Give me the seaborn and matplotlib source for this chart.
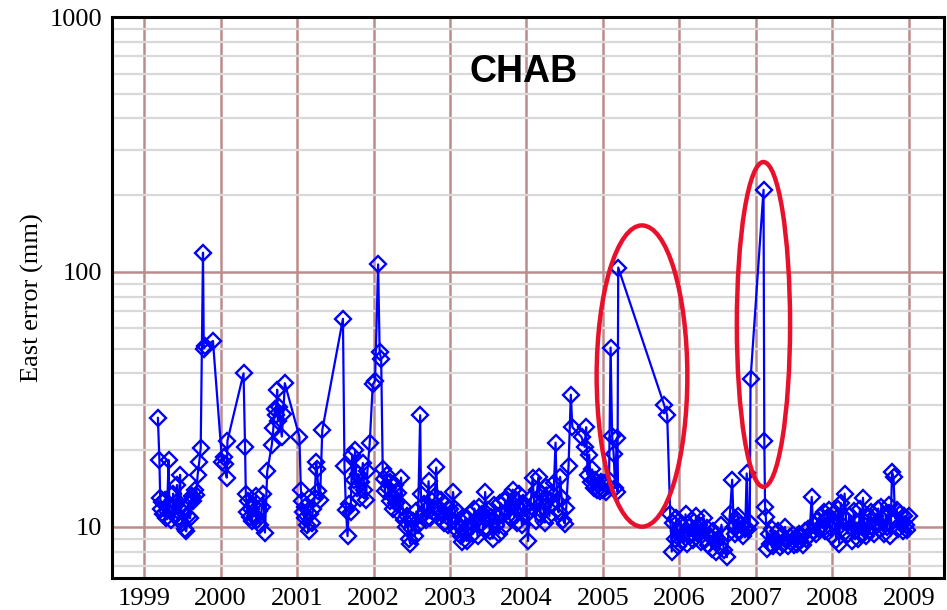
import numpy as np
import pandas as pd
import seaborn as sns
import matplotlib
matplotlib.use("Agg")
import matplotlib.pyplot as plt
from matplotlib.patches import Ellipse
from matplotlib.ticker import LogLocator, FixedLocator, NullFormatter

# ---------------- data ----------------
t_1999 = [1999.18, 1999.20, 1999.21, 1999.22, 1999.24, 1999.25, 1999.27, 1999.28, 1999.30, 1999.32,
          1999.33, 1999.35, 1999.37, 1999.38, 1999.40, 1999.42, 1999.43, 1999.45, 1999.47, 1999.48,
          1999.50, 1999.52, 1999.53, 1999.55, 1999.57, 1999.59, 1999.60, 1999.62, 1999.64, 1999.66,
          1999.68, 1999.70, 1999.72, 1999.74, 1999.77, 1999.78, 1999.80, 1999.90]
e_1999 = [26.8, 18.3, 13.0, 11.8, 12.5, 11.2, 12.8, 10.8, 11.5, 18.3,
          12.0, 10.6, 11.8, 13.5, 11.0, 12.4, 14.6, 10.9, 16.0, 12.2,
          10.4, 11.3, 9.8, 9.6, 11.0, 12.5, 10.8, 13.2, 12.6, 14.0,
          13.3, 16.0, 17.9, 20.4, 119.0, 50.0, 51.0, 53.6]

t_2000 = [2000.02, 2000.04, 2000.06, 2000.08, 2000.09, 2000.30, 2000.32, 2000.33, 2000.35, 2000.36,
          2000.38, 2000.40, 2000.41, 2000.43, 2000.45, 2000.46, 2000.48, 2000.50, 2000.52, 2000.54,
          2000.56, 2000.58, 2000.61, 2000.67, 2000.69, 2000.71, 2000.72, 2000.74, 2000.75, 2000.76,
          2000.80, 2000.82, 2000.84]
e_2000 = [18.0, 18.8, 17.6, 15.6, 21.8, 40.0, 20.6, 13.5, 11.4, 12.6,
          10.9, 11.8, 10.5, 12.2, 11.0, 13.2, 10.6, 11.5, 10.2, 12.0,
          13.4, 9.5, 16.5, 21.0, 24.4, 29.0, 27.5, 34.5, 26.0, 29.5,
          22.6, 27.8, 36.6]

t_2001 = [2001.03, 2001.05, 2001.06, 2001.08, 2001.10, 2001.11, 2001.13, 2001.15, 2001.17, 2001.19,
          2001.21, 2001.23, 2001.25, 2001.26, 2001.28, 2001.30, 2001.33, 2001.60, 2001.62, 2001.64,
          2001.66, 2001.68, 2001.70, 2001.72, 2001.74, 2001.76, 2001.78, 2001.80, 2001.82, 2001.84,
          2001.86, 2001.88, 2001.90, 2001.92, 2001.95, 2001.99, 2002.02, 2002.06, 2002.08, 2002.10]
e_2001 = [22.6, 14.0, 12.6, 11.4, 10.8, 12.0, 10.2, 9.6, 11.2, 10.4,
          11.8, 13.0, 17.9, 16.8, 13.8, 12.7, 24.0, 65.5, 17.4, 11.6,
          9.2, 12.3, 11.4, 19.2, 15.3, 20.0, 14.2, 16.1, 13.0, 15.0,
          17.8, 14.0, 12.8, 16.5, 21.3, 36.2, 37.4, 107.0, 48.5, 45.5]

t_2002 = [2002.12, 2002.14, 2002.15, 2002.17, 2002.19, 2002.21, 2002.22, 2002.24, 2002.26, 2002.28,
          2002.30, 2002.32, 2002.34, 2002.36, 2002.38, 2002.40, 2002.42, 2002.44, 2002.46, 2002.48,
          2002.50, 2002.52, 2002.54, 2002.56, 2002.58, 2002.61, 2002.62, 2002.64, 2002.66, 2002.68,
          2002.70, 2002.72, 2002.74, 2002.76, 2002.78, 2002.80, 2002.82, 2002.84, 2002.86, 2002.88,
          2002.90, 2002.92, 2002.94, 2002.96, 2002.98]
e_2002 = [16.8, 15.4, 13.8, 16.0, 14.2, 12.6, 15.0, 13.2, 11.8, 14.6,
          12.4, 13.6, 11.2, 15.6, 12.0, 10.6, 10.0, 11.0, 9.0, 8.6,
          9.8, 10.5, 9.2, 11.5, 10.2, 27.4, 13.5, 11.0, 12.3, 10.6,
          11.8, 15.1, 10.8, 12.6, 11.4, 13.2, 17.1, 12.0, 10.9, 12.7,
          11.2, 10.4, 12.2, 11.0, 10.2]

t_2003 = [2003.00, 2003.02, 2003.04, 2003.06, 2003.08, 2003.10, 2003.12, 2003.14, 2003.16, 2003.18,
          2003.20, 2003.22, 2003.24, 2003.26, 2003.28, 2003.30, 2003.32, 2003.34, 2003.36, 2003.38,
          2003.40, 2003.42, 2003.44, 2003.46, 2003.48, 2003.50, 2003.52, 2003.54, 2003.56, 2003.58,
          2003.60, 2003.62, 2003.64, 2003.66, 2003.68, 2003.70, 2003.72, 2003.74, 2003.76, 2003.78,
          2003.80, 2003.82, 2003.84, 2003.86, 2003.88, 2003.90, 2003.92, 2003.94, 2003.96, 2003.98]
e_2003 = [11.8, 10.5, 13.7, 11.8, 9.8, 11.4, 10.2, 9.2, 8.7, 9.6,
          10.8, 8.8, 9.9, 11.2, 10.0, 9.4, 11.8, 10.6, 9.2, 12.0,
          10.4, 11.2, 9.8, 13.7, 10.8, 11.6, 9.6, 10.9, 9.0, 12.2,
          10.2, 11.0, 9.4, 12.4, 11.2, 10.0, 12.6, 11.5, 13.2, 10.8,
          12.0, 14.0, 11.0, 12.8, 10.4, 13.5, 11.8, 10.2, 12.4, 11.0]

t_2004 = [2004.00, 2004.02, 2004.04, 2004.06, 2004.08, 2004.10, 2004.12, 2004.14, 2004.16, 2004.18,
          2004.20, 2004.22, 2004.24, 2004.26, 2004.28, 2004.30, 2004.32, 2004.34, 2004.36, 2004.38,
          2004.40, 2004.42, 2004.44, 2004.46, 2004.48, 2004.50, 2004.52, 2004.55, 2004.58, 2004.60,
          2004.72, 2004.76, 2004.78, 2004.80, 2004.82, 2004.84, 2004.86, 2004.88, 2004.90, 2004.92,
          2004.94, 2004.96, 2004.98, 2005.00, 2005.02, 2005.04, 2005.06, 2005.08, 2005.10, 2005.12,
          2005.14, 2005.16, 2005.18, 2005.19, 2005.20, 2005.80, 2005.84]
e_2004 = [12.0, 8.8, 11.5, 13.0, 15.6, 12.4, 10.5, 14.0, 15.7, 11.2,
          13.5, 12.0, 10.4, 14.3, 12.8, 11.0, 13.6, 12.2, 14.8, 21.4,
          12.6, 11.4, 15.7, 13.0, 10.6, 10.3, 11.9, 17.3, 33.0, 24.6,
          22.5, 20.6, 24.6, 16.0, 19.2, 15.0, 16.8, 14.2, 15.3, 13.9,
          14.6, 13.8, 15.0, 14.0, 14.8, 13.7, 14.4, 15.2, 50.5, 22.8,
          19.3, 14.2, 22.3, 13.7, 104.0, 30.1, 27.4]

t_2006 = [2005.88, 2005.90, 2005.92, 2005.94, 2005.96, 2005.98, 2006.00, 2006.02, 2006.04, 2006.06,
          2006.08, 2006.10, 2006.12, 2006.14, 2006.16, 2006.18, 2006.20, 2006.22, 2006.24, 2006.26,
          2006.28, 2006.30, 2006.32, 2006.34, 2006.36, 2006.38, 2006.40, 2006.42, 2006.44, 2006.46,
          2006.48, 2006.50, 2006.52, 2006.55, 2006.58, 2006.62, 2006.64, 2006.66, 2006.69, 2006.71,
          2006.73, 2006.75, 2006.77, 2006.79, 2006.81, 2006.83, 2006.86, 2006.88, 2006.90, 2006.92,
          2006.93, 2007.10]
e_2006 = [11.2, 8.0, 10.4, 9.0, 10.8, 8.4, 9.6, 10.2, 8.8, 9.4,
          11.2, 8.6, 10.0, 9.2, 10.6, 8.9, 9.8, 11.0, 9.4, 10.2,
          8.7, 9.6, 10.8, 9.0, 9.9, 8.5, 9.2, 8.2, 9.6, 8.8,
          8.0, 9.0, 8.4, 10.2, 8.1, 7.6, 9.4, 11.2, 15.3, 10.0,
          9.4, 10.6, 11.0, 9.6, 10.2, 9.2, 9.8, 16.2, 9.8, 10.4,
          37.9, 210.0]

t_2007 = [2007.11, 2007.12, 2007.13, 2007.15, 2007.17, 2007.19, 2007.21, 2007.23, 2007.25, 2007.27,
          2007.29, 2007.31, 2007.33, 2007.35, 2007.38, 2007.40, 2007.42, 2007.44, 2007.46, 2007.48,
          2007.50, 2007.52, 2007.54, 2007.56, 2007.58, 2007.60, 2007.62, 2007.64, 2007.66, 2007.68,
          2007.70, 2007.73, 2007.75, 2007.77, 2007.79, 2007.81, 2007.83, 2007.85, 2007.87, 2007.89,
          2007.91, 2007.93, 2007.95, 2007.97, 2007.99]
e_2007 = [21.8, 12.0, 10.9, 8.2, 9.4, 8.6, 9.8, 8.4, 9.0, 8.8,
          9.6, 8.3, 9.2, 8.6, 10.0, 8.9, 8.4, 9.1, 8.7, 9.3,
          8.5, 9.0, 8.6, 9.4, 8.8, 9.2, 8.5, 9.6, 9.0, 9.8,
          9.2, 13.1, 9.6, 10.2, 9.4, 10.6, 9.8, 11.0, 10.2, 11.4,
          9.6, 10.8, 11.6, 10.0, 9.2]

t_2008 = [2008.01, 2008.03, 2008.05, 2008.07, 2008.09, 2008.11, 2008.13, 2008.16, 2008.18, 2008.20,
          2008.22, 2008.24, 2008.26, 2008.28, 2008.30, 2008.32, 2008.34, 2008.36, 2008.38, 2008.40,
          2008.42, 2008.44, 2008.46, 2008.48, 2008.50, 2008.52, 2008.54, 2008.56, 2008.58, 2008.60,
          2008.62, 2008.64, 2008.66, 2008.68, 2008.70, 2008.72, 2008.74, 2008.76, 2008.78, 2008.80,
          2008.82, 2008.84, 2008.86, 2008.88, 2008.90, 2008.92, 2008.94, 2008.96, 2008.98, 2009.00]
e_2008 = [11.2, 10.4, 8.9, 11.8, 8.6, 12.4, 9.8, 13.5, 10.6, 9.4,
          11.0, 10.0, 8.8, 11.5, 9.6, 10.4, 9.0, 11.8, 9.4, 13.0,
          10.2, 9.2, 10.8, 9.6, 11.4, 10.0, 9.4, 11.0, 10.4, 11.8,
          9.8, 12.0, 10.6, 9.4, 11.2, 10.0, 12.2, 9.2, 16.4, 15.7,
          10.8, 11.6, 9.8, 11.2, 10.4, 9.6, 11.0, 10.2, 9.7, 11.0]

year_ticks = [1999, 2000, 2001, 2002, 2003, 2004, 2005, 2006, 2007, 2008, 2009]
y_ticks = [10, 100, 1000]
title_text = "CHAB"
y_label = "East error (mm)"

years = t_1999 + t_2000 + t_2001 + t_2002 + t_2003 + t_2004 + t_2006 + t_2007 + t_2008
east = e_1999 + e_2000 + e_2001 + e_2002 + e_2003 + e_2004 + e_2006 + e_2007 + e_2008
df = pd.DataFrame({"year": years, "east": east})

# ---------------- plot ----------------
sns.set_style("white")
plt.rcParams["font.family"] = ["Liberation Serif", "DejaVu Serif"]
plt.rcParams["text.color"] = "black"
plt.rcParams["axes.labelcolor"] = "black"

fig = plt.figure(figsize=(9.47, 6.10), dpi=100)
ax = fig.add_axes([112 / 947, 1 - 578 / 610, (944 - 112) / 947, (578 - 17) / 610])

major_c = "#bc8c8c"
minor_c = "#d9d9d9"

ax.set_yscale("log")
ax.set_ylim(6.3, 1000)
ax.set_xlim(1998.58, 2009.46)

ax.yaxis.set_major_locator(FixedLocator(y_ticks))
ax.set_yticklabels([str(v) for v in y_ticks])
ax.yaxis.set_minor_locator(LogLocator(base=10, subs=np.arange(2, 10)))
ax.yaxis.set_minor_formatter(NullFormatter())
ax.set_xticks(year_ticks)
ax.set_xticklabels([str(v) for v in year_ticks])

ax.set_axisbelow(True)
ax.grid(True, which="minor", axis="y", color=minor_c, linewidth=1.6)
ax.grid(True, which="major", axis="y", color=major_c, linewidth=1.8)
ax.grid(True, which="major", axis="x", color=major_c, linewidth=1.8)

sns.lineplot(data=df, x="year", y="east", ax=ax, color="#0000ff", linewidth=1.6,
             marker="D", markersize=8, markerfacecolor="none",
             markeredgecolor="#0000ff", markeredgewidth=1.7,
             estimator=None, sort=False, zorder=3)

ax.tick_params(axis="both", which="both", length=0, labelsize=19, pad=7,
               colors="black", labelcolor="black")
ax.set_xlabel("")
ax.set_ylabel(y_label, fontsize=19, labelpad=4, color="black")

for sp in ax.spines.values():
    sp.set_visible(True)
    sp.set_color("black")
    sp.set_linewidth(2.2)

ax.text(0.495, 0.902, title_text, transform=ax.transAxes, ha="center", va="center",
        fontsize=27, fontweight="bold", color="black",
        family=["Liberation Sans", "DejaVu Sans"])

e1 = Ellipse((0.637, 0.360), 0.109, 0.537, transform=ax.transAxes, fill=False,
             edgecolor="#e8102a", linewidth=3.2, zorder=4)
e2 = Ellipse((0.783, 0.452), 0.064, 0.579, transform=ax.transAxes, fill=False,
             edgecolor="#e8102a", linewidth=3.2, zorder=4)
ax.add_patch(e1)
ax.add_patch(e2)

fig.savefig("out.png", dpi=100)
